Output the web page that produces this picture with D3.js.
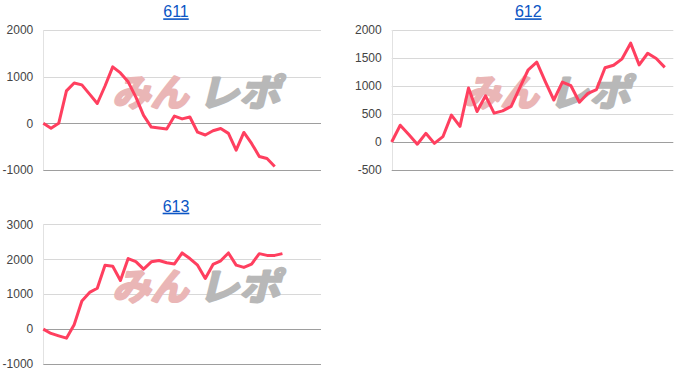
<!DOCTYPE html>
<html>
<head>
<meta charset="utf-8">
<script src="https://cdn.jsdelivr.net/npm/d3@7"></script>
<style>
  body { margin: 0; background: #fff; }
  svg { display: block; font-family: Arial, "Liberation Sans", sans-serif; }
</style>
</head>
<body>
<div id="chart-area"></div>
<script>
// machine numbers (chart titles)
const titles = ["611", "612", "613"];

// coin difference per game point
const series611 = [0, -105, 0, 695, 865, 825, 625, 425, 800, 1210, 1080, 890, 560, 170, -80, -100, -120, 155, 95, 135, -190, -250, -160, -110, -215, -575, -195, -430, -710, -755, -925];
const series612 = [0, 300, 135, -40, 155, -25, 95, 480, 280, 965, 545, 825, 515, 555, 635, 965, 1290, 1425, 1080, 750, 1070, 1005, 710, 870, 937, 1325, 1370, 1485, 1765, 1378, 1585, 1490, 1332];
const series613 = [0, -125, -195, -260, 125, 805, 1050, 1170, 1825, 1800, 1390, 2020, 1930, 1715, 1925, 1965, 1900, 1865, 2180, 2020, 1830, 1450, 1850, 1955, 2180, 1830, 1765, 1860, 2160, 2110, 2110, 2160];

// y tick values
const ticks611 = [-1000, 0, 1000, 2000];
const ticks612 = [-500, 0, 500, 1000, 1500, 2000];
const ticks613 = [-1000, 0, 1000, 2000, 3000];

// x extent of each chart (slots on the horizontal axis)
const xMax611 = 36;
const xMax612 = 33;
const xMax613 = 36;

const W = 700, H = 388;

const svg = d3.select("#chart-area")
  .append("svg")
  .attr("width", W)
  .attr("height", H);

// panels: plot box in page pixels
const panels = [
  { title: titles[0], data: series611, ticks: ticks611, xMax: xMax611, left: 43.3, right: 321, top: 30, bottom: 170, titleX: 176, titleY: 17.3 },
  { title: titles[1], data: series612, ticks: ticks612, xMax: xMax612, left: 391.7, right: 673.3, top: 30, bottom: 170, titleX: 528.3, titleY: 17.3 },
  { title: titles[2], data: series613, ticks: ticks613, xMax: xMax613, left: 43.3, right: 321, top: 224.3, bottom: 364, titleX: 176, titleY: 211.7 }
];

panels.forEach((p) => {
  const x = d3.scaleLinear().domain([0, p.xMax]).range([p.left, p.right]);
  const y = d3.scaleLinear()
    .domain([d3.min(p.ticks), d3.max(p.ticks)])
    .range([p.bottom, p.top]);

  const g = svg.append("g");

  // title (link style)
  g.append("text")
    .attr("x", p.titleX)
    .attr("y", p.titleY)
    .attr("text-anchor", "middle")
    .attr("font-size", 16)
    .attr("fill", "#0b55c4")
    .attr("text-decoration", "underline")
    .text(p.title);

  // horizontal gridlines
  g.selectAll(".grid")
    .data(p.ticks)
    .join("line")
    .attr("x1", p.left)
    .attr("x2", p.right)
    .attr("y1", (d) => Math.round(y(d)) + 0.5)
    .attr("y2", (d) => Math.round(y(d)) + 0.5)
    .attr("stroke", (d) => (d === 0 || d === d3.min(p.ticks) ? "#9e9e9e" : "#d8d8d8"))
    .attr("stroke-width", 1);

  // faint left axis line
  g.append("line")
    .attr("x1", Math.round(p.left) + 0.5)
    .attr("x2", Math.round(p.left) + 0.5)
    .attr("y1", p.top)
    .attr("y2", p.bottom)
    .attr("stroke", "#e2e2e2");

  // y axis labels (plain hyphen minus like the original)
  const yAxis = d3.axisLeft(y).tickValues(p.ticks).tickSize(0).tickPadding(10).tickFormat((d) => String(d));
  g.append("g")
    .attr("transform", `translate(${p.left},0)`)
    .call(yAxis)
    .call((a) => a.select(".domain").remove())
    .selectAll("text")
    .attr("font-size", 12)
    .attr("font-family", "Arial, 'Liberation Sans', sans-serif")
    .attr("fill", "#444");

  // watermark logo
  const cx = (p.left + p.right) / 2;
  const cy = (p.top + p.bottom) / 2 - 8;
  const wm = g.append("g")
    .attr("transform", `translate(${cx - 70},${cy + 14}) skewX(-14)`)
    .attr("font-family", "'Noto Sans CJK JP', sans-serif")
    .attr("font-weight", "bold")
    .attr("font-size", 37)
    .attr("stroke-width", 2.5)
    .attr("stroke-linejoin", "round");
  wm.append("text").attr("x", 0).attr("y", 0)
    .attr("fill", "#eab6b6").attr("stroke", "#eab6b6")
    .attr("textLength", 76).attr("lengthAdjust", "spacingAndGlyphs")
    .text("みん");
  wm.append("text").attr("x", 86).attr("y", 0)
    .attr("fill", "#b8b8b8").attr("stroke", "#b8b8b8")
    .attr("textLength", 82).attr("lengthAdjust", "spacingAndGlyphs")
    .text("レポ");

  // line
  const line = d3.line()
    .x((d, i) => x(i))
    .y((d) => y(d));

  g.append("path")
    .datum(p.data)
    .attr("fill", "none")
    .attr("stroke", "#ff3f5f")
    .attr("stroke-width", 3)
    .attr("stroke-linejoin", "round")
    .attr("d", line);
});
</script>
</body>
</html>
